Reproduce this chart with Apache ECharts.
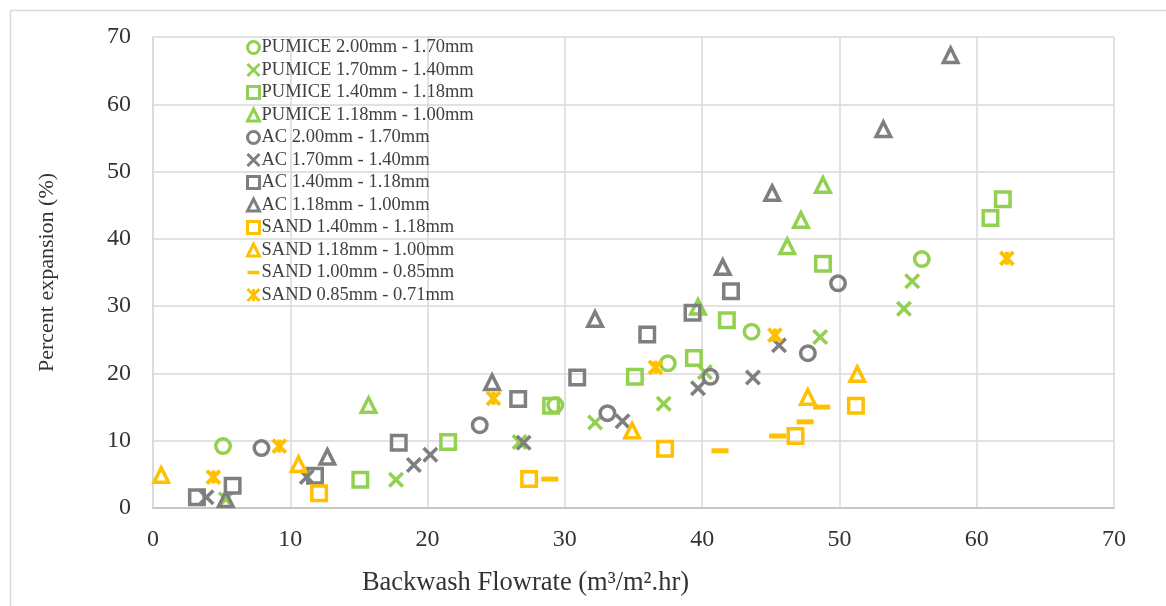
<!DOCTYPE html>
<html>
<head>
<meta charset="utf-8">
<script src="https://cdn.jsdelivr.net/npm/echarts@6/dist/echarts.min.js"></script>
<style>html,body{margin:0;padding:0;background:#fff}#c{width:1166px;height:606px}</style>
</head>
<body>
<div id="c"></div>
<script>
// ---- data: [backwash flowrate, percent expansion] ----
const seriesNames = [
  'PUMICE 2.00mm - 1.70mm','PUMICE 1.70mm - 1.40mm','PUMICE 1.40mm - 1.18mm','PUMICE 1.18mm - 1.00mm',
  'AC 2.00mm - 1.70mm','AC 1.70mm - 1.40mm','AC 1.40mm - 1.18mm','AC 1.18mm - 1.00mm',
  'SAND 1.40mm - 1.18mm','SAND 1.18mm - 1.00mm','SAND 1.00mm - 0.85mm','SAND 0.85mm - 0.71mm'
];
const pumice200 = [[5.1,9.2],[29.3,15.3],[37.5,21.5],[43.6,26.2],[56.0,37.0]];
const pumice170 = [[5.3,1.3],[17.7,4.2],[26.7,9.8],[32.2,12.7],[37.2,15.5],[40.2,20.2],[48.6,25.4],[54.7,29.6],[55.3,33.7]];
const pumice140 = [[15.1,4.2],[21.5,9.8],[29.0,15.2],[35.1,19.5],[39.4,22.3],[41.8,27.9],[48.8,36.3],[61.0,43.1],[61.9,45.9]];
const pumice118 = [[15.7,15.3],[39.7,29.9],[46.2,38.9],[47.2,42.8],[48.8,48.0]];
const ac200 = [[7.9,8.9],[23.8,12.3],[33.1,14.1],[40.6,19.5],[47.7,23.0],[49.9,33.4]];
const ac170 = [[3.9,1.6],[11.2,4.6],[19.0,6.4],[20.2,7.9],[27.0,9.7],[34.2,12.9],[39.7,17.8],[43.7,19.4],[45.6,24.2]];
const ac140 = [[3.2,1.6],[5.8,3.3],[11.8,4.8],[17.9,9.7],[26.6,16.2],[30.9,19.4],[36.0,25.8],[39.3,29.0],[42.1,32.2]];
const ac118 = [[5.3,1.3],[12.7,7.6],[24.7,18.7],[32.2,28.1],[41.5,35.8],[45.1,46.8],[53.2,56.3],[58.1,67.3]];
const sand140 = [[12.1,2.2],[27.4,4.3],[37.3,8.8],[46.8,10.7],[51.2,15.2]];
const sand118 = [[0.6,4.9],[10.6,6.5],[34.9,11.5],[47.7,16.5],[51.3,19.9]];
const sand100 = [[28.9,4.3],[41.3,8.5],[45.5,10.7],[47.5,12.8],[48.7,15.0]];
const sand085 = [[4.4,4.6],[9.2,9.2],[24.8,16.3],[36.6,20.9],[45.3,25.7],[62.2,37.1]];
const xTicks = [0,10,20,30,40,50,60,70];
const yTicks = [0,10,20,30,40,50,60,70];
const xName = 'Backwash Flowrate (m\u00B3/m\u00B2.hr)';
const yName = 'Percent expansion (%)';

// ---- styles ----
const GREEN = '#92D050', GRAY = '#7F7F7F', YELLOW = '#FFC000';
const FONT = '"Liberation Serif", "Times New Roman", serif';
const XPATH = 'path://M0,0L10,10M0,10L10,0';
const STAR = 'path://M0,0L10,10M0,10L10,0M5,0L5,10';
const DASH = 'path://M0,0M0,6L17,6L17,11L0,11ZM17,17';

function hollow(name, data, color, symbol, size, bw) {
  return {
    name, type: 'scatter', data, symbol, symbolSize: size, symbolKeepAspect: true,
    itemStyle: { color: 'rgba(0,0,0,0)', borderColor: color, borderWidth: bw, opacity: 1 },
    emphasis: { disabled: true }
  };
}
const series = [
  hollow(seriesNames[0], pumice200, GREEN, 'circle', 14.5, 3.5),
  hollow(seriesNames[1], pumice170, GREEN, XPATH, 13.5, 3.5),
  hollow(seriesNames[2], pumice140, GREEN, 'rect', 14.5, 3.5),
  hollow(seriesNames[3], pumice118, GREEN, 'triangle', 14.5, 3.5),
  hollow(seriesNames[4], ac200, GRAY, 'circle', 14.5, 3.5),
  hollow(seriesNames[5], ac170, GRAY, XPATH, 13.5, 3.5),
  hollow(seriesNames[6], ac140, GRAY, 'rect', 14.5, 3.5),
  hollow(seriesNames[7], ac118, GRAY, 'triangle', 14.5, 3.5),
  hollow(seriesNames[8], sand140, YELLOW, 'rect', 14.5, 3.5),
  hollow(seriesNames[9], sand118, YELLOW, 'triangle', 14.5, 3.5),
  { name: seriesNames[10], type: 'scatter', data: sand100, symbol: DASH, symbolSize: 17, symbolKeepAspect: true,
    itemStyle: { color: YELLOW, opacity: 1 }, emphasis: { disabled: true } },
  hollow(seriesNames[11], sand085, YELLOW, STAR, 13, 4)
];

const legendData = seriesNames.map((n, i) => i === 10
  ? { name: n, itemStyle: { borderWidth: 0 } }
  : { name: n });

const chart = echarts.init(document.getElementById('c'));
chart.setOption({
  animation: false,
  backgroundColor: '#fff',
  textStyle: { fontFamily: FONT },
  grid: { left: 153, right: 52, top: 37, bottom: 98 },
  graphic: [{ type: 'rect', left: 8, top: 8, shape: { width: 1200, height: 700 },
    style: { fill: 'none', stroke: '#D9D9D9', lineWidth: 1.5 }, silent: true }],
  legend: {
    orient: 'vertical', left: 241, top: 33, itemWidth: 12, itemHeight: 12, itemGap: 3.5,
    data: legendData,
    itemStyle: { borderWidth: 3 },
    textStyle: { fontFamily: FONT, fontSize: 18.5, color: '#404040', padding: [0,0,0,-3] }
  },
  xAxis: {
    type: 'value', min: xTicks[0], max: xTicks[xTicks.length-1], interval: 10,
    name: xName, nameLocation: 'middle', nameGap: 62,
    nameTextStyle: { fontFamily: FONT, fontSize: 26.5, color: '#333', padding: [0,216,0,0] },
    axisLine: { show: true, lineStyle: { color: '#BFBFBF', width: 1.5 } },
    axisTick: { show: false },
    axisLabel: { fontFamily: FONT, fontSize: 24, color: '#333', margin: 20 },
    splitLine: { show: true, lineStyle: { color: '#D9D9D9', width: 1.5 } }
  },
  yAxis: {
    type: 'value', min: yTicks[0], max: yTicks[yTicks.length-1], interval: 10,
    name: yName, nameLocation: 'middle', nameGap: 95,
    nameTextStyle: { fontFamily: FONT, fontSize: 22, color: '#333' },
    axisLine: { show: true, lineStyle: { color: '#D9D9D9', width: 1.5 } },
    axisTick: { show: false },
    axisLabel: { fontFamily: FONT, fontSize: 24, color: '#333', margin: 22 },
    splitLine: { show: true, lineStyle: { color: '#D9D9D9', width: 1.5 } }
  },
  series
});
</script>
</body>
</html>
